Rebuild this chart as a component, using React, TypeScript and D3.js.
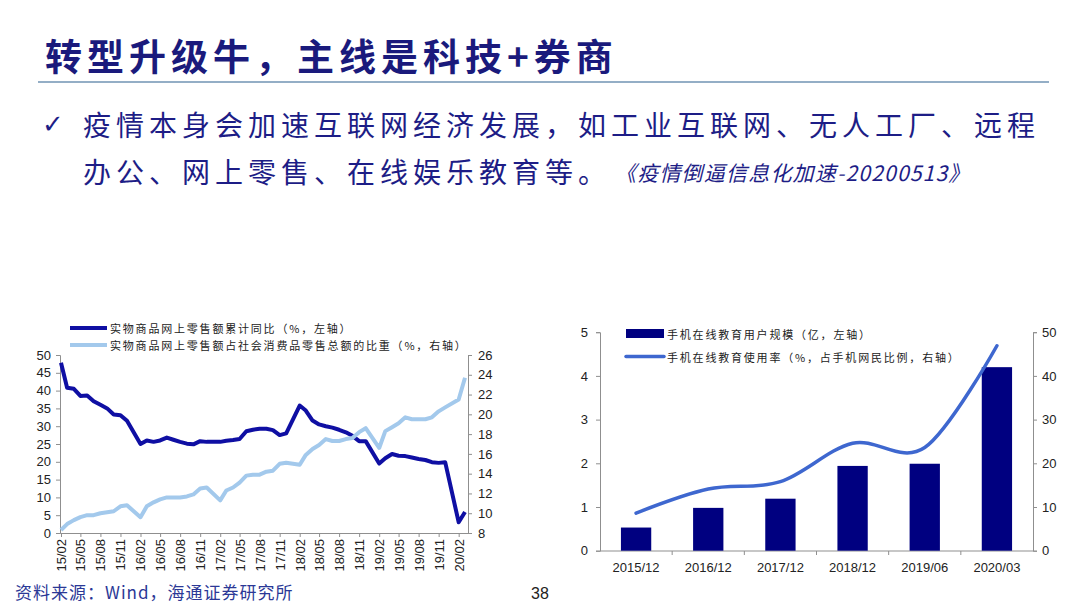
import React, { useRef, useEffect } from 'react';
import * as d3 from 'd3';

const W = 1080;
const H = 608;

// 实物商品网上零售额（月度，1-2月合并）
const retailMonths = [
  '2015-02', '2015-03', '2015-04', '2015-05', '2015-06', '2015-07', '2015-08', '2015-09', '2015-10', '2015-11', '2015-12',
  '2016-02', '2016-03', '2016-04', '2016-05', '2016-06', '2016-07', '2016-08', '2016-09', '2016-10', '2016-11', '2016-12',
  '2017-02', '2017-03', '2017-04', '2017-05', '2017-06', '2017-07', '2017-08', '2017-09', '2017-10', '2017-11', '2017-12',
  '2018-02', '2018-03', '2018-04', '2018-05', '2018-06', '2018-07', '2018-08', '2018-09', '2018-10', '2018-11', '2018-12',
  '2019-02', '2019-03', '2019-04', '2019-05', '2019-06', '2019-07', '2019-08', '2019-09', '2019-10', '2019-11', '2019-12',
  '2020-02', '2020-03',
];
const retailGrowth = [
  47.8, 40.8, 40.5, 38.5, 38.6, 37.0, 36.0, 35.0, 33.3, 33.1, 31.5,
  25.0, 26.0, 25.6, 26.0, 26.8, 26.2, 25.6, 25.1, 24.9, 25.8, 25.6,
  25.6, 25.9, 26.1, 26.4, 28.6, 29.0, 29.3, 29.3, 28.9, 27.5, 28.0,
  35.8, 34.4, 31.6, 30.5, 30.0, 29.6, 29.0, 28.3, 27.3, 25.8, 25.8,
  19.5, 21.0, 22.2, 21.7, 21.6, 21.2, 20.8, 20.5, 19.9, 19.7, 19.9,
  3.0, 5.9,
];
const retailShare = [
  8.3, 8.9, 9.3, 9.6, 9.8, 9.8, 10.0, 10.1, 10.2, 10.7, 10.8,
  9.6, 10.7, 11.1, 11.4, 11.6, 11.6, 11.6, 11.7, 11.9, 12.5, 12.6,
  11.3, 12.3, 12.6, 13.1, 13.8, 13.9, 13.9, 14.2, 14.3, 15.0, 15.1,
  14.9, 15.9, 16.5, 16.9, 17.5, 17.3, 17.3, 17.5, 17.6, 18.2, 18.6,
  16.6, 18.3, 18.7, 19.1, 19.7, 19.5, 19.5, 19.5, 19.7, 20.3, 20.7,
  21.5, 23.7,
];
const retailTicks = [
  '15/02', '15/05', '15/08', '15/11', '16/02', '16/05', '16/08', '16/11', '17/02', '17/05', '17/08',
  '17/11', '18/02', '18/05', '18/08', '18/11', '19/02', '19/05', '19/08', '19/11', '20/02',
];
const leftTicks = [0, 5, 10, 15, 20, 25, 30, 35, 40, 45, 50];
const shareTicks = [8, 10, 12, 14, 16, 18, 20, 22, 24, 26];

// 手机在线教育
const eduPeriods = ['2015/12', '2016/12', '2017/12', '2018/12', '2019/06', '2020/03'];
const eduUsers = [0.53, 0.98, 1.19, 1.94, 1.99, 4.2];
const eduRate = [8.6, 14.1, 15.8, 24.6, 23.6, 46.9];
const eduLeftTicks = [0, 1, 2, 3, 4, 5];
const eduRightTicks = [0, 10, 20, 30, 40, 50];

const NAVY = '#1d1d86';
const AXIS = '#8f8f8f';
const CJK = '"Noto Sans CJK SC", sans-serif';
const LATIN = '"Liberation Sans", Arial, sans-serif';

const App = () => {
  const svgRef = useRef<SVGSVGElement>(null);

  useEffect(() => {
    const svg = d3.select(svgRef.current);
    svg.selectAll('*').remove();

    svg.append('rect').attr('width', W).attr('height', H).attr('fill', '#fff');

    // ---- header ----
    svg.append('text')
      .attr('x', 45).attr('y', 55)
      .attr('dominant-baseline', 'central')
      .attr('font-family', CJK).attr('font-weight', 700)
      .attr('font-size', 37).attr('letter-spacing', 5)
      .attr('fill', '#1a1a7c')
      .text('转型升级牛，主线是科技+券商');

    svg.append('line')
      .attr('x1', 38).attr('x2', 1049).attr('y1', 82).attr('y2', 82)
      .attr('stroke', '#7193b3').attr('stroke-width', 1.5);

    svg.append('text')
      .attr('x', 42).attr('y', 124).attr('dominant-baseline', 'central')
      .attr('font-family', '"DejaVu Sans", sans-serif').attr('font-size', 26)
      .attr('fill', NAVY).text('✓');

    svg.append('text')
      .attr('x', 83).attr('y', 124).attr('dominant-baseline', 'central')
      .attr('font-family', CJK).attr('font-size', 28).attr('letter-spacing', 5)
      .attr('fill', NAVY)
      .text('疫情本身会加速互联网经济发展，如工业互联网、无人工厂、远程');

    svg.append('text')
      .attr('x', 83).attr('y', 171).attr('dominant-baseline', 'central')
      .attr('font-family', CJK).attr('font-size', 28).attr('letter-spacing', 5)
      .attr('fill', NAVY)
      .text('办公、网上零售、在线娱乐教育等。');

    svg.append('text')
      .attr('x', 615).attr('y', 172).attr('dominant-baseline', 'central')
      .attr('font-family', CJK).attr('font-size', 21).attr('letter-spacing', 1.2)
      .attr('font-style', 'italic')
      .attr('fill', NAVY)
      .text('《疫情倒逼信息化加速-20200513》');

    // ---- left chart ----
    const parseMonth = d3.timeParse('%Y-%m');
    const dates = retailMonths.map(m => parseMonth(m) as Date);
    const tickDates = retailTicks.map(t => d3.timeParse('%y/%m')(t) as Date);

    const lx = d3.scaleTime()
      .domain([dates[0], dates[dates.length - 1]])
      .range([61, 465]);
    const ly = d3.scaleLinear().domain([0, 50]).range([533, 355]);
    const ry = d3.scaleLinear().domain([8, 26]).range([533, 355]);

    const left = svg.append('g');

    left.append('g')
      .attr('transform', 'translate(60,0)')
      .call(d3.axisLeft(ly).tickValues(leftTicks).tickSize(4).tickPadding(5))
      .call(g => g.select('.domain').attr('stroke', AXIS))
      .call(g => g.selectAll('.tick line').attr('stroke', AXIS))
      .call(g => g.selectAll('.tick text')
        .attr('font-family', LATIN).attr('font-size', 13).attr('fill', '#222'));

    left.append('g')
      .attr('transform', 'translate(468,0)')
      .call(d3.axisRight(ry).tickValues(shareTicks).tickSize(4).tickPadding(6))
      .call(g => g.select('.domain').attr('stroke', AXIS))
      .call(g => g.selectAll('.tick line').attr('stroke', AXIS))
      .call(g => g.selectAll('.tick text')
        .attr('font-family', LATIN).attr('font-size', 13).attr('fill', '#222'));

    const xAxisG = left.append('g')
      .attr('transform', 'translate(0,533)')
      .call(d3.axisBottom(lx).tickValues(tickDates).tickFormat(d3.timeFormat('%y/%m') as any)
        .tickSize(4).tickSizeOuter(0));
    xAxisG.select('.domain').attr('stroke', AXIS).attr('d', 'M60.5,0.5H468.5');
    xAxisG.selectAll('.tick line').attr('stroke', AXIS);
    xAxisG.selectAll('.tick text')
      .attr('font-family', LATIN).attr('font-size', 13).attr('fill', '#222')
      .attr('text-anchor', 'end')
      .attr('dy', null)
      .attr('dominant-baseline', 'central')
      .attr('transform', 'translate(0,2) rotate(-90)')
      .attr('y', 0).attr('x', -4);

    const shareLine = d3.line<number>()
      .x((_, i) => lx(dates[i]))
      .y(d => ry(d));
    const growthLine = d3.line<number>()
      .x((_, i) => lx(dates[i]))
      .y(d => ly(d));

    left.append('path')
      .datum(retailGrowth)
      .attr('d', growthLine)
      .attr('fill', 'none').attr('stroke', '#0f0fa3')
      .attr('stroke-width', 4).attr('stroke-linejoin', 'round');

    left.append('path')
      .datum(retailShare)
      .attr('d', shareLine)
      .attr('fill', 'none').attr('stroke', '#a3c9ec')
      .attr('stroke-width', 4).attr('stroke-linejoin', 'round');

    const legL = [
      { y: 328, color: '#0f0fa3', label: '实物商品网上零售额累计同比（%，左轴）' },
      { y: 345, color: '#a3c9ec', label: '实物商品网上零售额占社会消费品零售总额的比重（%，右轴）' },
    ];
    legL.forEach(l => {
      left.append('line')
        .attr('x1', 70).attr('x2', 107).attr('y1', l.y).attr('y2', l.y)
        .attr('stroke', l.color).attr('stroke-width', 4);
      left.append('text')
        .attr('x', 110).attr('y', l.y).attr('dominant-baseline', 'central')
        .attr('font-family', CJK).attr('font-size', 11).attr('letter-spacing', 1.8)
        .attr('fill', '#222').text(l.label);
    });

    // ---- right chart ----
    const bx = d3.scaleBand<string>()
      .domain(eduPeriods)
      .range([600, 1033])
      .paddingInner(0.58).paddingOuter(0.29);
    const by = d3.scaleLinear().domain([0, 5]).range([550.7, 332.2]);
    const bry = d3.scaleLinear().domain([0, 50]).range([550.7, 332.2]);

    const right = svg.append('g');

    right.append('g')
      .attr('transform', 'translate(600,0)')
      .call(d3.axisLeft(by).tickValues(eduLeftTicks).tickFormat(d3.format('d') as any)
        .tickSize(4).tickPadding(8))
      .call(g => g.select('.domain').attr('stroke', AXIS))
      .call(g => g.selectAll('.tick line').attr('stroke', AXIS))
      .call(g => g.selectAll('.tick text')
        .attr('font-family', LATIN).attr('font-size', 13).attr('fill', '#222'));

    right.append('g')
      .attr('transform', 'translate(1033,0)')
      .call(d3.axisRight(bry).tickValues(eduRightTicks).tickSize(4).tickPadding(5))
      .call(g => g.select('.domain').attr('stroke', AXIS))
      .call(g => g.selectAll('.tick line').attr('stroke', AXIS))
      .call(g => g.selectAll('.tick text')
        .attr('font-family', LATIN).attr('font-size', 13).attr('fill', '#222'));

    const step = bx.step();
    const bxAxis = right.append('g').attr('transform', 'translate(0,551)');
    bxAxis.append('line')
      .attr('x1', 600).attr('x2', 1033).attr('y1', 0).attr('y2', 0)
      .attr('stroke', AXIS);
    bxAxis.selectAll('line.sep')
      .data(eduPeriods.slice(1))
      .join('line')
      .attr('class', 'sep')
      .attr('x1', d => (bx(d) as number) + bx.bandwidth() / 2 - step / 2)
      .attr('x2', d => (bx(d) as number) + bx.bandwidth() / 2 - step / 2)
      .attr('y1', 0).attr('y2', 4)
      .attr('stroke', AXIS);
    bxAxis.selectAll('text')
      .data(eduPeriods)
      .join('text')
      .attr('x', d => (bx(d) as number) + bx.bandwidth() / 2)
      .attr('y', 16)
      .attr('text-anchor', 'middle').attr('dominant-baseline', 'central')
      .attr('font-family', LATIN).attr('font-size', 13).attr('fill', '#222')
      .text(d => d);

    right.selectAll('rect.bar')
      .data(eduUsers)
      .join('rect')
      .attr('class', 'bar')
      .attr('x', (_, i) => bx(eduPeriods[i]) as number)
      .attr('width', bx.bandwidth())
      .attr('y', d => by(d))
      .attr('height', d => by(0) - by(d))
      .attr('fill', '#000080');

    const rateLine = d3.line<number>()
      .x((_, i) => (bx(eduPeriods[i]) as number) + bx.bandwidth() / 2)
      .y(d => bry(d))
      .curve(d3.curveCardinal.tension(0));

    right.append('path')
      .datum(eduRate)
      .attr('d', rateLine)
      .attr('fill', 'none').attr('stroke', '#3e67cf')
      .attr('stroke-width', 3.5).attr('stroke-linecap', 'round');

    right.append('rect')
      .attr('x', 626).attr('y', 329).attr('width', 38).attr('height', 9)
      .attr('fill', '#000080');
    right.append('text')
      .attr('x', 667).attr('y', 333.5).attr('dominant-baseline', 'central')
      .attr('font-family', CJK).attr('font-size', 11).attr('letter-spacing', 1.8)
      .attr('fill', '#222').text('手机在线教育用户规模（亿，左轴）');
    right.append('line')
      .attr('x1', 626).attr('x2', 664).attr('y1', 356.5).attr('y2', 356.5)
      .attr('stroke', '#3e67cf').attr('stroke-width', 3.5).attr('stroke-linecap', 'round');
    right.append('text')
      .attr('x', 667).attr('y', 356.5).attr('dominant-baseline', 'central')
      .attr('font-family', CJK).attr('font-size', 11).attr('letter-spacing', 1.8)
      .attr('fill', '#222').text('手机在线教育使用率（%，占手机网民比例，右轴）');

    // ---- footer ----
    svg.append('text')
      .attr('x', 15).attr('y', 591).attr('dominant-baseline', 'central')
      .attr('font-family', CJK).attr('font-size', 17).attr('letter-spacing', 1)
      .attr('fill', '#2b3896')
      .text('资料来源：Wind，海通证券研究所');

    svg.append('text')
      .attr('x', 540).attr('y', 593).attr('dominant-baseline', 'central')
      .attr('text-anchor', 'middle')
      .attr('font-family', LATIN).attr('font-size', 16)
      .attr('fill', '#222')
      .text('38');
  }, []);

  return (
    <svg
      ref={svgRef}
      width={W}
      height={H}
      style={{ position: 'absolute', left: 0, top: 0, display: 'block' }}
    />
  );
};

export default App;
